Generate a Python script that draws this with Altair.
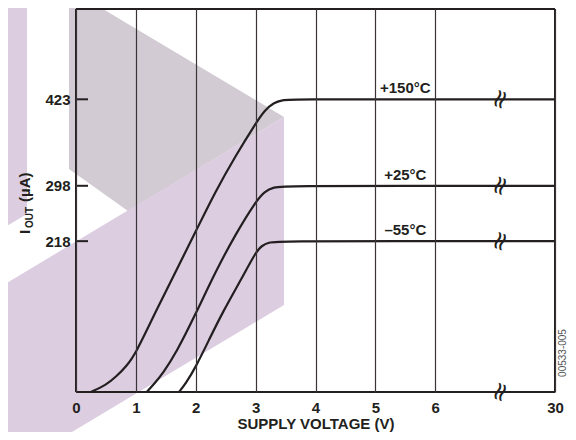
import altair as alt
import pandas as pd

# ---- data ----
series_names = ["+150°C", "+25°C", "–55°C"]
v_150 = [0.25, 0.5, 0.67, 0.85, 1.0, 1.33, 1.67, 2.0, 2.33, 2.67, 3.0, 3.15, 3.3, 3.45, 3.6, 6, 30]
i_150 = [0, 10, 22, 38, 56, 116, 175, 232, 290, 342, 388, 407, 418, 422, 423, 423, 423]
v_25 = [1.18, 1.3, 1.45, 1.67, 2.0, 2.33, 2.67, 3.0, 3.15, 3.3, 3.5, 6, 30]
i_25 = [0, 11, 27, 56, 113, 174, 229, 275, 290, 296, 298, 298, 298]
v_m55 = [1.72, 1.83, 2.0, 2.22, 2.44, 2.78, 3.0, 3.11, 3.22, 3.35, 6, 30]
i_m55 = [0, 12, 36, 75, 114, 166, 202, 212, 216, 218, 218, 218]

plateau_levels = [423, 298, 218]
x_tick_values = [0, 1, 2, 3, 4, 5, 6, 30]
x_limits = [0, 30]
y_limits = [0, 553.5]
label_voltage = 5.5
break_voltage = 19
break_levels = [423, 298, 218, 0]

# background watermark shapes (in chart units)
wm_gray_v = [-0.117, 0.2, 0.868, 3.474]
wm_gray_top = [566.6, 566.6, 531.9, 397.5]
wm_gray_bot = [322.3, 302.8, 261.6, 397.5]
wm_band_v = [-1.269, 3.474]
wm_band_top = [151.8, 397.5]
wm_band_bot = [-120.0, 125.7]
wm_strip_v = [-1.269, -0.818]
wm_strip_top = [566.6, 566.6]
wm_strip_bot = [234.1, 257.3]

# ---- tables ----
curves = pd.concat([
    pd.DataFrame({"V": v_150, "I": i_150, "s": series_names[0]}),
    pd.DataFrame({"V": v_25, "I": i_25, "s": series_names[1]}),
    pd.DataFrame({"V": v_m55, "I": i_m55, "s": series_names[2]}),
], ignore_index=True)
labels = pd.DataFrame({"V": [label_voltage] * 3, "I": plateau_levels, "t": series_names})
breaks = pd.DataFrame({"V": [break_voltage] * 4, "I": break_levels})
yticks = pd.DataFrame({"V": [0] * 3, "V2": [0.2] * 3, "I": plateau_levels})
frame_v = pd.DataFrame({"V": x_limits})
frame_h = pd.DataFrame({"I": y_limits})
wm_gray = pd.DataFrame({"V": wm_gray_v, "I": wm_gray_top, "I2": wm_gray_bot})
wm_lav = pd.concat([
    pd.DataFrame({"V": wm_band_v, "I": wm_band_top, "I2": wm_band_bot, "k": "band"}),
    pd.DataFrame({"V": wm_strip_v, "I": wm_strip_top, "I2": wm_strip_bot, "k": "strip"}),
], ignore_index=True)

W, H = 479, 383
INK = "#231f20"
FONT = "Liberation Sans"
FS = 15

xscale = alt.Scale(domain=[0, 6, 30], range=[0, W * 6 / 8, W], nice=False, zero=False)
yscale = alt.Scale(domain=y_limits, nice=False, zero=True)
xaxis = alt.Axis(values=x_tick_values, grid=True, ticks=False, domain=False,
                 labelFont=FONT, labelFontSize=FS, labelFontWeight="bold", labelColor=INK,
                 labelPadding=8, labelFlush=False,
                 title="SUPPLY VOLTAGE (V)", titleFont=FONT, titleFontSize=FS,
                 titleFontWeight="bold", titleColor=INK, titlePadding=1,
                 gridColor="#3a3438", gridWidth=1.2, zindex=1)
yaxis = alt.Axis(values=plateau_levels, grid=False, ticks=False, domain=False,
                 labelFont=FONT, labelFontSize=FS, labelFontWeight="bold", labelColor=INK,
                 labelPadding=6, title=None, zindex=1)


def X(f="V"):
    return alt.X(f, type="quantitative", scale=xscale, axis=xaxis)


def Y(f="I"):
    return alt.Y(f, type="quantitative", scale=yscale, axis=yaxis)


gray = alt.Chart(wm_gray).mark_area(color="#d2cbd3", clip=False, interpolate="linear").encode(
    x=X(), y=Y(), y2=alt.Y2("I2"))
lav = alt.Chart(wm_lav).mark_area(color="#dccde0", clip=False, interpolate="linear").encode(
    x=X(), y=Y(), y2=alt.Y2("I2"), detail="k:N")
fv = alt.Chart(frame_v).mark_rule(color=INK, strokeWidth=2).encode(x=X())
fh = alt.Chart(frame_h).mark_rule(color=INK, strokeWidth=2).encode(y=Y())
ticks = alt.Chart(yticks).mark_rule(color=INK, strokeWidth=2).encode(
    x=X(), x2=alt.X2("V2"), y=Y())
lines = alt.Chart(curves).mark_line(color=INK, strokeWidth=2.2, interpolate="basis").encode(
    x=X(), y=Y(), detail="s:N", order=alt.Order("V:Q"))
lab = alt.Chart(labels).mark_text(font=FONT, fontSize=FS, fontWeight="bold", color=INK,
                                  baseline="alphabetic", dy=-6).encode(x=X(), y=Y(), text="t:N")
brk = alt.Chart(breaks).mark_text(text="≈", font="DejaVu Sans", fontSize=26, color=INK,
                                  angle=110, baseline="middle", align="center", clip=False).encode(x=X(), y=Y())

one = pd.DataFrame({"a": [0]})
t_i = alt.Chart(one).mark_text(text="I", font=FONT, fontSize=FS, fontWeight="bold", color=INK,
                               angle=270, align="left", baseline="alphabetic").encode(
    x=alt.value(-46), y=alt.value(225))
t_out = alt.Chart(one).mark_text(text="OUT", font=FONT, fontSize=10, fontWeight="bold", color=INK,
                                 angle=270, align="left", baseline="alphabetic").encode(
    x=alt.value(-43), y=alt.value(219))
t_ua = alt.Chart(one).mark_text(text="(µA)", font=FONT, fontSize=FS, fontWeight="bold", color=INK,
                                angle=270, align="left", baseline="alphabetic").encode(
    x=alt.value(-46), y=alt.value(193))
t_code = alt.Chart(one).mark_text(text="00533-005", font=FONT, fontSize=10, color="#555555",
                                  angle=270, align="center", baseline="middle").encode(
    x=alt.value(487), y=alt.value(344))

chart = alt.layer(gray, lav, fv, fh, ticks, lines, lab, brk, t_i, t_out, t_ua, t_code).properties(
    width=W, height=H,
    background="white",
    autosize=alt.AutoSizeParams(type="none"),
    padding={"left": 68, "top": 1, "right": 13, "bottom": 40},
).configure_view(stroke="transparent")

chart.save("out.html", embed_options={"renderer": "svg", "actions": False})
